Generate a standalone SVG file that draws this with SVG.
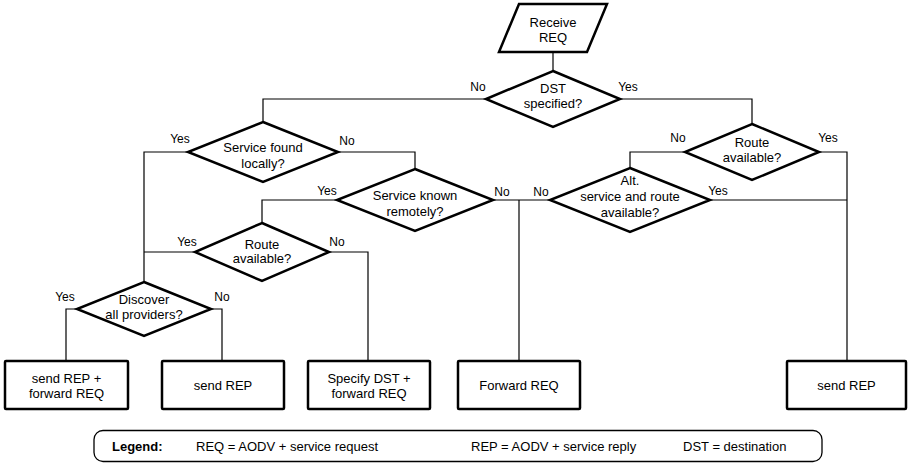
<svg xmlns="http://www.w3.org/2000/svg" width="908" height="465" viewBox="0 0 908 465">
  <style>
    .shape { fill: #ffffff; stroke: #000000; stroke-width: 2.5; stroke-linejoin: miter; }
    .wire { fill: none; stroke: #000000; stroke-width: 1.2; }
    .t { font-family: "Liberation Sans", Arial, Helvetica, sans-serif; font-size: 13px; fill: #000000; text-anchor: middle; }
    .lbl { font-family: "Liberation Sans", Arial, Helvetica, sans-serif; font-size: 12px; fill: #000000; text-anchor: middle; }
    .leg { font-family: "Liberation Sans", Arial, Helvetica, sans-serif; font-size: 13px; fill: #000000; }
  </style>
  <rect width="908" height="465" fill="#ffffff"/>

  <!-- connectors -->
  <g id="connectors">
    <path class="wire" d="M553,52 V71"/>
    <path class="wire" d="M486,99 H263 V122"/>
    <path class="wire" d="M620,99 H752 V124"/>
    <path class="wire" d="M188,152 H144 V282"/>
    <path class="wire" d="M338,152 H415 V169"/>
    <path class="wire" d="M337,200 H262 V223"/>
    <path class="wire" d="M195,252 H144"/>
    <path class="wire" d="M329,252 H368 V361"/>
    <path class="wire" d="M77,309 H66 V361"/>
    <path class="wire" d="M211,309 H222 V361"/>
    <path class="wire" d="M493,200 H550"/>
    <path class="wire" d="M519,200 V361"/>
    <path class="wire" d="M685,152 H630 V168"/>
    <path class="wire" d="M819,152 H847 V361"/>
    <path class="wire" d="M710,200 H847"/>
    <!-- branch labels -->
    <text class="lbl" x="478" y="91">No</text>
    <text class="lbl" x="628" y="91">Yes</text>
    <text class="lbl" x="180" y="143">Yes</text>
    <text class="lbl" x="347" y="145">No</text>
    <text class="lbl" x="327" y="195">Yes</text>
    <text class="lbl" x="502" y="196">No</text>
    <text class="lbl" x="541" y="196">No</text>
    <text class="lbl" x="718" y="195">Yes</text>
    <text class="lbl" x="678" y="142">No</text>
    <text class="lbl" x="828" y="142">Yes</text>
    <text class="lbl" x="187" y="246">Yes</text>
    <text class="lbl" x="337" y="246">No</text>
    <text class="lbl" x="65" y="301">Yes</text>
    <text class="lbl" x="222" y="301">No</text>
  </g>

  <!-- start: input -->
  <g id="receive-req">
    <polygon class="shape" points="519,4 607,4 587,52 499,52"/>
    <text class="t" x="553" y="26.5">Receive</text>
    <text class="t" x="553" y="41.5">REQ</text>
  </g>

  <!-- decisions -->
  <g id="dst-specified">
    <polygon class="shape" points="553,71 620,99 553,127 486,99"/>
    <text class="t" x="553" y="92.5">DST</text>
    <text class="t" x="553" y="107.5">specified?</text>
  </g>
  <g id="service-found-locally">
    <polygon class="shape" points="263,122 338,152 263,182 188,152"/>
    <text class="t" x="263" y="151.5">Service found</text>
    <text class="t" x="263" y="167.5">locally?</text>
  </g>
  <g id="service-known-remotely">
    <polygon class="shape" points="415,169 493,200 415,231 337,200"/>
    <text class="t" x="415" y="199.5">Service known</text>
    <text class="t" x="415" y="215.5">remotely?</text>
  </g>
  <g id="route-available-left">
    <polygon class="shape" points="262,223 329,252 262,281 195,252"/>
    <text class="t" x="262" y="248.5">Route</text>
    <text class="t" x="262" y="262.5">available?</text>
  </g>
  <g id="discover-all-providers">
    <polygon class="shape" points="144,282 211,309 144,336 77,309"/>
    <text class="t" x="144" y="303.5">Discover</text>
    <text class="t" x="144" y="318.5">all providers?</text>
  </g>
  <g id="route-available-right">
    <polygon class="shape" points="752,124 819,152 752,180 685,152"/>
    <text class="t" x="752" y="146.5">Route</text>
    <text class="t" x="752" y="161.5">available?</text>
  </g>
  <g id="alt-service-route">
    <polygon class="shape" points="630,168 710,200 630,232 550,200"/>
    <text class="t" x="630" y="185">Alt.</text>
    <text class="t" x="630" y="201">service and route</text>
    <text class="t" x="630" y="216.5">available?</text>
  </g>

  <!-- actions -->
  <g id="send-rep-forward-req">
    <rect class="shape" x="5" y="361" width="123" height="48" rx="1"/>
    <text class="t" x="66.5" y="382.5">send REP +</text>
    <text class="t" x="66.5" y="397.5">forward REQ</text>
  </g>
  <g id="send-rep-left">
    <rect class="shape" x="162" y="361" width="122" height="48" rx="1"/>
    <text class="t" x="223" y="389.5">send REP</text>
  </g>
  <g id="specify-dst">
    <rect class="shape" x="308" y="361" width="122" height="48" rx="1"/>
    <text class="t" x="369" y="382.5">Specify DST +</text>
    <text class="t" x="369" y="397.5">forward REQ</text>
  </g>
  <g id="forward-req">
    <rect class="shape" x="458" y="361" width="122" height="48" rx="1"/>
    <text class="t" x="519" y="389.5">Forward REQ</text>
  </g>
  <g id="send-rep-right">
    <rect class="shape" x="787" y="361" width="119" height="48" rx="1"/>
    <text class="t" x="846.5" y="389.5">send REP</text>
  </g>

  <!-- legend -->
  <g id="legend">
    <rect x="94" y="430.5" width="728" height="31" rx="9" fill="#ffffff" stroke="#000000" stroke-width="1.3"/>
    <text class="leg" x="112" y="451" font-weight="bold">Legend:</text>
    <text class="leg" x="196" y="451">REQ = AODV + service request</text>
    <text class="leg" x="471" y="451">REP = AODV + service reply</text>
    <text class="leg" x="683" y="451">DST = destination</text>
  </g>
</svg>
